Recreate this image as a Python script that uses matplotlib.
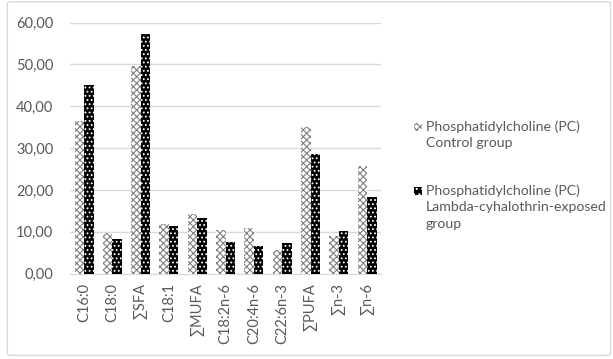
import numpy as np
import matplotlib
matplotlib.use('Agg')
import matplotlib.pyplot as plt
from matplotlib.patches import FancyBboxPatch, Rectangle
from matplotlib.ticker import FuncFormatter

plt.rcParams['font.family'] = ['Lato', 'DejaVu Sans']
plt.rcParams['hatch.linewidth'] = 0.8

# data
categories = ['C16:0', 'C18:0', '∑SFA', 'C18:1', '∑MUFA', 'C18:2n-6',
              'C20:4n-6', 'C22:6n-3', '∑PUFA', '∑n-3', '∑n-6']
control = [36.5, 9.7, 49.6, 11.8, 14.2, 10.5, 11.0, 5.6, 35.0, 9.0, 25.8]
exposed = [45.0, 8.2, 57.2, 11.3, 13.4, 7.5, 6.5, 7.2, 28.6, 10.2, 18.2]
labels = ['Phosphatidylcholine (PC)\nControl group',
          'Phosphatidylcholine (PC)\nLambda-cyhalothrin-exposed\ngroup']

W, H = 613, 359
fig = plt.figure(figsize=(W / 100, H / 100), dpi=100)
fig.patches.append(FancyBboxPatch((0.012, 0.01), 0.984, 0.985,
                                  boxstyle='round,pad=0,rounding_size=0.005',
                                  transform=fig.transFigure, facecolor='none',
                                  edgecolor='#d9d9d9', linewidth=1))
ax = fig.add_axes([0.114, 0.238, 0.508, 0.699])

x = np.arange(len(categories))
w = 0.335
ax.bar(x - w / 2, control, w, facecolor='white', edgecolor='#808080',
       hatch='xxxxx', linewidth=0, zorder=3)
ax.bar(x + w / 2, exposed, w, facecolor='black', edgecolor='white',
       hatch='....', linewidth=0, zorder=3)

ax.set_xlim(-0.5, len(categories) - 0.5)
ax.set_ylim(0, 60)
ax.set_yticks(np.arange(0, 61, 10))
ax.yaxis.set_major_formatter(FuncFormatter(lambda v, p: '{:.2f}'.format(v).replace('.', ',')))
ax.set_xticks(x)
ax.set_xticklabels(categories, rotation=90)
ax.tick_params(axis='both', length=0, labelsize=10.5, colors='#595959')
ax.tick_params(axis='y', pad=12)
ax.tick_params(axis='x', pad=7)
ax.grid(axis='y', color='#d9d9d9', linewidth=1, zorder=0)
for s in ['top', 'right', 'left']:
    ax.spines[s].set_visible(False)
ax.spines['bottom'].set_color('#d9d9d9')

# legend drawn by hand so the key sits on the first line
styles = [dict(facecolor='white', edgecolor='#808080', hatch='xxxxx'),
          dict(facecolor='black', edgecolor='white', hatch='...')]
tops = [120, 184]
for lab, st, top in zip(labels, styles, tops):
    fig.patches.append(Rectangle((414 / W, 1 - (top + 11) / H), 8 / W, 8 / H,
                                 transform=fig.transFigure, linewidth=0, **st))
    fig.text(426 / W, 1 - top / H, lab, ha='left', va='top', fontsize=10.2,
             color='#595959', linespacing=1.45)

fig.savefig('out.png', dpi=100)
